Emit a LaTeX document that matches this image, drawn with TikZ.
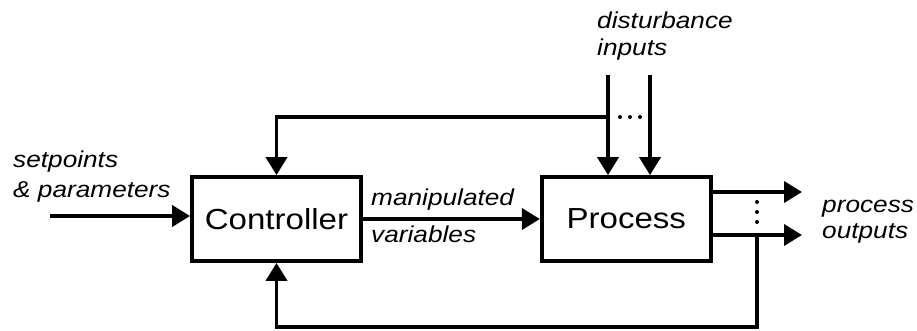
\documentclass[tikz,border=0pt]{standalone}
\usepackage{fontspec}
\setmainfont{Liberation Sans}[FakeStretch=1.14]
\usetikzlibrary{positioning,arrows.meta}

\tikzset{
	block/.style={draw, line width=3.8pt, minimum width=169pt, minimum height=84pt,
		inner sep=0pt, font=\fontsize{29}{34}\selectfont},
	sig/.style={line width=3.8pt, -{Triangle[length=18pt,width=21pt]}},
	lbl/.style={inner sep=0pt, align=left, font=\fontsize{23}{28}\selectfont\itshape}
}

\begin{document}
\begin{tikzpicture}[x=1pt,y=-1pt]
		\useasboundingbox (0,0) rectangle (917,330);
		
		% blocks
		\node[block] (ctrl) at (276.5,219) {Controller};
		\node[block, right=177pt of ctrl] (proc) {Process};
		
		% end points
		\coordinate (sp) at (50,216);
		\coordinate (d1) at (608,75);
		\coordinate (d2) at (650,75);
		\coordinate (tj) at (608,117);
		\coordinate (o1) at (802,192);
		\coordinate (o2) at (802,235);
		\coordinate (ob) at (757,235);
		\coordinate (fb) at (757,327);
		
		% signals
		\draw[sig] (sp) -- (sp -| ctrl.west);
		\draw[sig] (ctrl.east) -- (proc.west);
		\draw[sig] (d1) -- (d1 |- proc.north);
		\draw[sig] (d2) -- (d2 |- proc.north);
		\draw[sig] (o1 -| proc.east) -- (o1);
		\draw[sig] (o2 -| proc.east) -- (o2);
		\draw[sig] (tj) -| (ctrl.north);
		\draw[sig] (ob) -- (fb) -| (ctrl.south);
		
		% dots
		\foreach \x in {620,630,640}
			\fill (\x,117) circle (2pt);
		\foreach \y in {202,212,222}
			\fill (757,\y) circle (2pt);
		
		% labels (base = last line)
		\node[lbl, anchor=base west] (dist) at (597,55) {disturbance\\[-1pt]inputs};
		\node[lbl, anchor=base west] (setp) at (13,197) {setpoints\\[2pt]\& parameters};
		\node[lbl, anchor=base west] (mv1) at (371,205) {manipulated};
		\node[lbl, anchor=base west] (mv2) at (371,242) {variables};
		\node[lbl, anchor=base west] (pout) at (822,238) {process\\[-2pt]outputs};
		\end{tikzpicture}
\end{document}
